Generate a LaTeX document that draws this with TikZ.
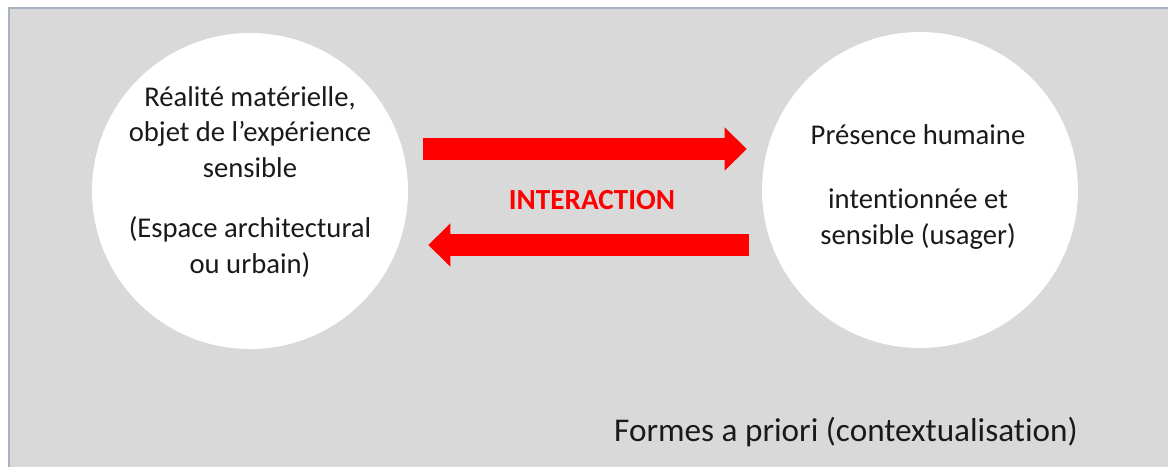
\documentclass[tikz,border=0pt]{standalone}
\usepackage{fontspec}
\setmainfont{Carlito}[Ligatures=CommonOff]
\usetikzlibrary{arrows.meta,calc}

\definecolor{panelgrey}{HTML}{D9D9D9}
\definecolor{panelline}{HTML}{A9B3C2}
\definecolor{txtgrey}{HTML}{1A1A1A}

\begin{document}
\begin{tikzpicture}[x=0.02cm,y=-0.02cm]
\tikzset{cir/.style={circle,fill=white,minimum size=6.32cm,inner sep=0pt},
    txt/.style={align=center,text=txtgrey,font=\fontsize{16.3}{20.3}\selectfont},
    fat/.style={draw=red,line width=0.44cm,-{Triangle[width=0.84cm,length=0.44cm]}}}

\useasboundingbox (0,0) rectangle (1168,466);
\fill[panelgrey] (9,8) rectangle (1170,468);
\draw[panelline,line width=0.6pt] (9,468) -- (9,8) -- (1170,8);

\node[cir] (lc) at (250,191) {};
\node[cir] (rc) at (920,190) {};

\node[txt] (lt) at (250,182) {R\'ealit\'e mat\'erielle,\\objet de l’exp\'erience\\sensible\\[14pt]
    (Espace architectural\\ou urbain)};
\node[txt] (rt) at (918,187) {Pr\'esence humaine\\[16pt]intentionn\'ee et\\sensible (usager)};

\node[font=\fontsize{16.6}{19}\selectfont\bfseries,text=red] (inter) at (592,200) {INTERACTION};

% aller et retour
\coordinate (a1) at ($(lc.east)+(15,-42)$);
\coordinate (a2) at ($(rc.west)+(-15,-41)$);
\coordinate (b1) at ($(rc.west)+(-13,55)$);
\coordinate (b2) at ($(lc.east)+(20,54)$);
\draw[fat] (a1) -- (a2);
\draw[fat] (b1) -- (b2);

\node[font=\fontsize{18.9}{22}\selectfont,text=txtgrey] (ctx) at (846,432) {Formes a priori (contextualisation)};
\end{tikzpicture}
\end{document}
